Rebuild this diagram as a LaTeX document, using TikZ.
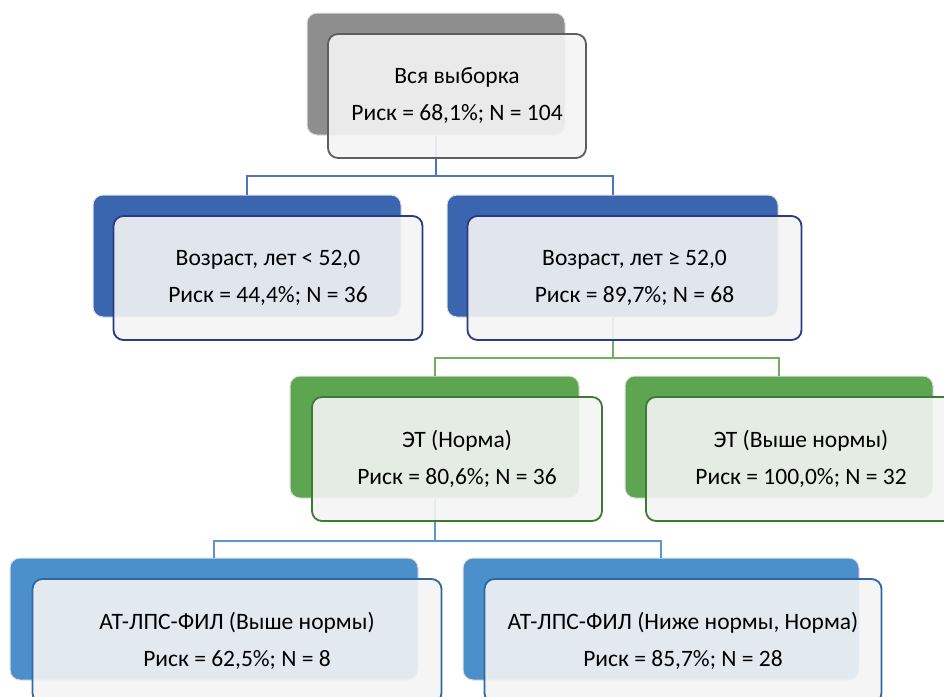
\documentclass[tikz,border=0pt]{standalone}
\usepackage{fontspec}
\setmainfont{Carlito}
\definecolor{grayback}{HTML}{8E8E8E}
\definecolor{grayline}{HTML}{5E5E5E}
\definecolor{navyback}{HTML}{3A66B0}
\definecolor{navyline}{HTML}{2A3A84}
\definecolor{greenback}{HTML}{5EA552}
\definecolor{greenline}{HTML}{3E7A36}
\definecolor{lblueback}{HTML}{4B8FCB}
\definecolor{lblueline}{HTML}{2F68A3}
\definecolor{connA}{HTML}{5175BD}
\definecolor{connB}{HTML}{70B060}
\definecolor{connC}{HTML}{5D95D1}
\definecolor{frontfill}{HTML}{F4F4F4}
\tikzset{
  backbox/.style={draw=black!12, line width=1pt, rounded corners=10pt,
    minimum height=122pt, inner sep=0pt},
  frontbox/.style={draw=#1, line width=1.8pt, rounded corners=10pt,
    fill=frontfill, fill opacity=0.9, text opacity=1,
    minimum height=124pt, inner sep=0pt, align=center,
    font=\fontsize{23.5}{37}\selectfont},
  conn/.style={draw=#1, line width=2pt},
}
\begin{document}
\begin{tikzpicture}[x=1pt,y=-1pt]
\useasboundingbox (0,0) rectangle (944,696);
\clip (0,0) rectangle (944,696);
% back boxes
\node[backbox, fill=grayback, minimum width=258pt] (b0) at (436,74) {};
\node[backbox, fill=navyback, minimum width=308pt] (b1) at (247,256) {};
\node[backbox, fill=navyback, minimum width=331pt] (b2) at (612.5,256) {};
\node[backbox, fill=greenback, minimum width=289pt] (b3) at (434.5,437) {};
\node[backbox, fill=greenback, minimum width=308pt] (b4) at (779,437) {};
\node[backbox, fill=lblueback, minimum width=408pt] (b5) at (214,619) {};
\node[backbox, fill=lblueback, minimum width=396pt] (b6) at (661,619) {};
% connectors
\draw[conn=connA] (b0.south) -- ++(0,40) coordinate (j0) -| (b1.north);
\draw[conn=connA] (j0) -| (b2.north);
\draw[conn=connB] (b2.south) -- ++(0,40) coordinate (j1) -| (b3.north);
\draw[conn=connB] (j1) -| (b4.north);
\draw[conn=connC] (b3.south) -- ++(0,42) coordinate (j2) -| (b5.north);
\draw[conn=connC] (j2) -| (b6.north);
% front boxes
\node[frontbox=grayline, minimum width=258pt] (f0) at (457,96)
  {Вся выборка\\Риск = 68,1\%; N = 104};
\node[frontbox=navyline, minimum width=309pt] (f1) at (268,278)
  {Возраст, лет < 52,0\\Риск = 44,4\%; N = 36};
\node[frontbox=navyline, minimum width=334pt] (f2) at (634.5,278)
  {Возраст, лет ≥ 52,0\\Риск = 89,7\%; N = 68};
\node[frontbox=greenline, minimum width=290pt] (f3) at (457,459)
  {ЭТ (Норма)\\Риск = 80,6\%; N = 36};
\node[frontbox=greenline, minimum width=310pt] (f4) at (801,459)
  {ЭТ (Выше нормы)\\Риск = 100,0\%; N = 32};
\node[frontbox=lblueline, minimum width=409pt] (f5) at (237,641)
  {АТ-ЛПС-ФИЛ (Выше нормы)\\Риск = 62,5\%; N = 8};
\node[frontbox=lblueline, minimum width=397pt] (f6) at (683,641)
  {АТ-ЛПС-ФИЛ (Ниже нормы, Норма)\\Риск = 85,7\%; N = 28};
\end{tikzpicture}
\end{document}
